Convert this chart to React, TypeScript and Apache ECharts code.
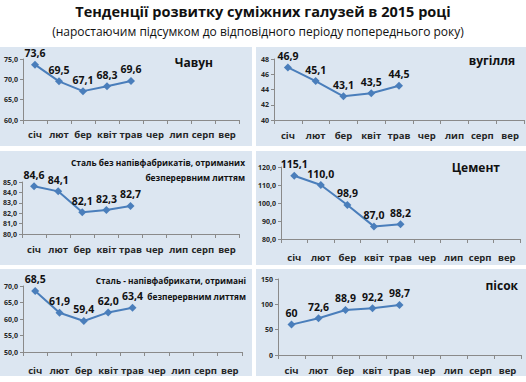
import React, { useEffect, useRef } from "react";
import * as echarts from "echarts";

const months = ["січ", "лют", "бер", "квіт", "трав", "чер", "лип", "серп", "вер"];

const chavun = [73.6, 69.5, 67.1, 68.3, 69.6];
const vuhillia = [46.9, 45.1, 43.1, 43.5, 44.5];
const stalBez = [84.6, 84.1, 82.1, 82.3, 82.7];
const tsement = [115.1, 110.0, 98.9, 87.0, 88.2];
const stalNapiv = [68.5, 61.9, 59.4, 62.0, 63.4];
const pisok = [60, 72.6, 88.9, 92.2, 98.7];

const mainTitle = "Тенденції розвитку суміжних галузей в 2015 році";
const subTitle = "(наростаючим підсумком до відповідного періоду попереднього року)";

const FONT = '"Open Sans", "Noto Sans", sans-serif';
const BLUE = "#4a7ebb";
const AXIS = "#8a8a8a";
const PANEL_BG = "#dce6f1";

type Panel = {
  title: string[];
  data: number[];
  min: number;
  max: number;
  interval: number;
  yDec: number;
  labelDec: number | null;
  box: [number, number, number, number];
  grid: { left: number; top: number; width: number; height: number };
  margin: number;
  titleX: number;
  titleY: number[];
  titleSize: number;
};

const panels: Panel[] = [
  {
    title: ["Чавун"], data: chavun, min: 60, max: 75, interval: 5, yDec: 1, labelDec: 1,
    box: [0, 47, 252, 99], grid: { left: 23, top: 59, width: 216, height: 61 },
    margin: 9, titleX: 213, titleY: [62], titleSize: 12,
  },
  {
    title: ["вугілля"], data: vuhillia, min: 40, max: 48, interval: 2, yDec: 0, labelDec: 1,
    box: [256, 47, 270, 99], grid: { left: 274, top: 59, width: 250, height: 61 },
    margin: 10, titleX: 515, titleY: [60], titleSize: 12,
  },
  {
    title: ["Сталь без напівфабрикатів, отриманих", "безперервним литтям"], data: stalBez,
    min: 80, max: 85, interval: 1, yDec: 1, labelDec: 1,
    box: [0, 151, 252, 114], grid: { left: 22, top: 182, width: 217, height: 52 },
    margin: 10, titleX: 245, titleY: [162, 177], titleSize: 8.4,
  },
  {
    title: ["Цемент"], data: tsement, min: 80, max: 120, interval: 10, yDec: 1, labelDec: 1,
    box: [256, 151, 270, 114], grid: { left: 281, top: 167, width: 239, height: 72 },
    margin: 13, titleX: 500, titleY: [167], titleSize: 12,
  },
  {
    title: ["Сталь - напівфабрикати, отримані", "безперервним литтям"], data: stalNapiv,
    min: 50, max: 70, interval: 5, yDec: 1, labelDec: 1,
    box: [0, 269, 252, 107], grid: { left: 23, top: 286, width: 219, height: 66 },
    margin: 13, titleX: 246, titleY: [280, 296], titleSize: 8.3,
  },
  {
    title: ["пісок"], data: pisok, min: 0, max: 150, interval: 50, yDec: 0, labelDec: null,
    box: [256, 269, 270, 107], grid: { left: 278, top: 279, width: 243, height: 76 },
    margin: 10, titleX: 518, titleY: [285], titleSize: 12,
  },
];

const fmt = (v: number, dec: number | null) =>
  dec === null ? String(v).replace(".", ",") : v.toFixed(dec).replace(".", ",");

export default function App() {
  const ref = useRef<HTMLDivElement>(null);

  useEffect(() => {
    if (!ref.current) return;
    const chart = echarts.init(ref.current, null, { renderer: "svg" });

    const graphic: any[] = [];
    panels.forEach((p) => {
      graphic.push({
        type: "rect", z: -10, silent: true,
        shape: { x: p.box[0], y: p.box[1], width: p.box[2], height: p.box[3] },
        style: { fill: PANEL_BG },
      });
      p.title.forEach((t, k) => {
        graphic.push({
          type: "text", z: 10, x: p.titleX, y: p.titleY[k],
          style: {
            text: t, fill: "#111", font: `bold ${p.titleSize}px ${FONT}`,
            textAlign: "right", textVerticalAlign: "middle",
          },
        });
      });
    });
    graphic.push({
      type: "text", x: 263, y: 11,
      style: { text: mainTitle, fill: "#111", font: `bold 14.5px ${FONT}`, textAlign: "center", textVerticalAlign: "middle" },
    });
    graphic.push({
      type: "text", x: 258, y: 31,
      style: { text: subTitle, fill: "#111", font: `12px ${FONT}`, textAlign: "center", textVerticalAlign: "middle" },
    });

    chart.setOption({
      animation: false,
      backgroundColor: "#ffffff",
      grid: panels.map((p) => ({ ...p.grid, containLabel: false })),
      xAxis: panels.map((p, i) => ({
        type: "category", gridIndex: i, data: months, boundaryGap: true,
        axisLine: { show: true, lineStyle: { color: AXIS, width: 1 } },
        axisTick: { show: true, length: 4, lineStyle: { color: AXIS } },
        axisLabel: {
          interval: 0, margin: p.margin, fontFamily: FONT, fontWeight: "bold",
          fontSize: 9.5, color: "#262626",
        },
        splitLine: { show: false },
      })),
      yAxis: panels.map((p, i) => ({
        type: "value", gridIndex: i, min: p.min, max: p.max, interval: p.interval,
        axisLine: { show: true, lineStyle: { color: AXIS, width: 1 } },
        axisTick: { show: true, length: 3, lineStyle: { color: AXIS } },
        axisLabel: {
          margin: 5, fontFamily: FONT, fontWeight: "bold", fontSize: 7, color: "#262626",
          formatter: (v: number) => fmt(v, p.yDec),
        },
        splitLine: { show: false },
      })),
      series: panels.map((p, i) => ({
        type: "line", xAxisIndex: i, yAxisIndex: i, data: p.data,
        symbol: "diamond", symbolSize: 8,
        lineStyle: { color: BLUE, width: 2 }, itemStyle: { color: BLUE },
        label: {
          show: true, position: "top", distance: 2, fontFamily: FONT, fontWeight: "bold",
          fontSize: 10.5, color: "#111", formatter: (o: any) => fmt(o.value, p.labelDec),
        },
      })),
      graphic,
    });

    return () => chart.dispose();
  }, []);

  return (
    <div
      ref={ref}
      style={{ position: "fixed", left: 0, top: 0, width: 526, height: 382 }}
    />
  );
}
